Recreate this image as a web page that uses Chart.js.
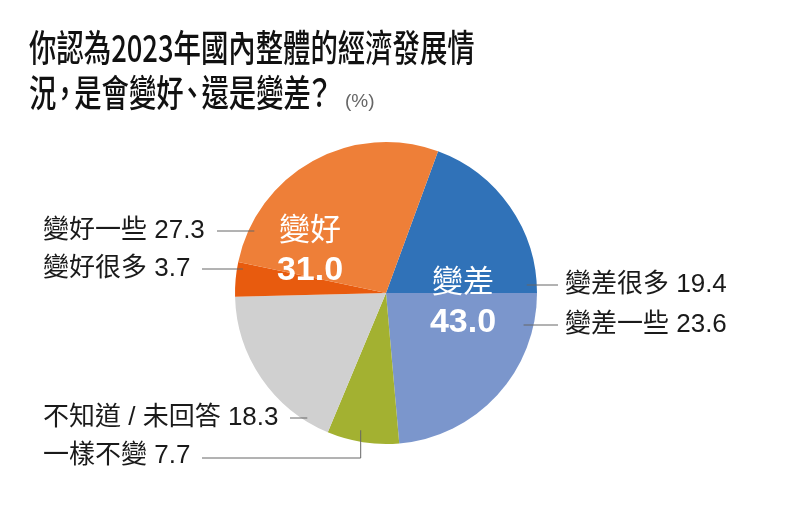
<!DOCTYPE html>
<html>
<head>
<meta charset="utf-8">
<script src="https://cdn.jsdelivr.net/npm/chart.js@4.4.0/dist/chart.umd.min.js"></script>
<style>
  html, body { margin: 0; padding: 0; background: #fff; }
  #wrap { position: relative; width: 800px; height: 525px; }
  #title {
    position: absolute; left: 29px; top: 24px;
    font: 500 37px "Noto Sans CJK TC", sans-serif; line-height: 45px; color: #111;
    transform: scaleX(0.74); transform-origin: 0 0; white-space: nowrap;
  }
  #title .p { margin-left: -7px; letter-spacing: -6px; }
  #unit {
    position: absolute; left: 345px; top: 90px;
    font: 19px "Liberation Sans", sans-serif; color: #666;
  }
  canvas { position: absolute; left: 0; top: 0; }
</style>
</head>
<body>
<div id="wrap">
  <canvas id="pie" width="800" height="525"></canvas>
  <div id="title">你認為2023年國內整體的經濟發展情<br>況<span class="p">，</span>是會變好<span class="p">、</span>還是變差<span class="p">？</span></div>
  <div id="unit">(%)</div>
</div>
<script>
const labels = ["變差很多", "變差一些", "一樣不變", "不知道 / 未回答", "變好很多", "變好一些"];
const values = [19.4, 23.6, 7.7, 18.3, 3.7, 27.3];
const colors = ["#3072b8", "#7b96cc", "#a3b131", "#d0d0d0", "#e85b0e", "#ee7f38"];
const groupNames = ["變差", "變好"];
const groupTotals = [43.0, 31.0];

// outside labels: which slice, where the text sits, where its leader line starts
const outside = [
  { i: 5, x: 43, y: 231, lineX: 217, side: "left" },
  { i: 4, x: 43, y: 269, lineX: 202, side: "left" },
  { i: 0, x: 565, y: 285, lineX: 558, side: "right" },
  { i: 1, x: 565, y: 325, lineX: 558, side: "right" },
  { i: 3, x: 43, y: 418, lineX: 290, side: "left" },
  { i: 2, x: 43, y: 456, lineX: 202, side: "elbow" },
];

const labelFont = '26px "Liberation Sans", "Noto Sans CJK TC", sans-serif';

const labelPlugin = {
  id: "pieLabels",
  afterDraw(chart) {
    const ctx = chart.ctx;
    const arcs = chart.getDatasetMeta(0).data;
    const cx = arcs[0].x, cy = arcs[0].y, r = arcs[0].outerRadius;
    ctx.save();

    // leader lines + outside labels
    ctx.font = labelFont;
    ctx.textBaseline = "middle";
    ctx.textAlign = "left";
    ctx.strokeStyle = "#666";
    ctx.lineWidth = 1;
    outside.forEach(o => {
      ctx.fillStyle = "#1a1a1a";
      ctx.fillText(labels[o.i] + " " + values[o.i].toFixed(1), o.x, o.y);
      ctx.beginPath();
      if (o.side === "elbow") {
        const a = arcs[o.i];
        const mid = (a.startAngle + a.endAngle) / 2;
        const ex = cx + Math.cos(mid) * r * 0.92 - 4;
        const ey = cy + Math.sin(mid) * r * 0.92;
        ctx.moveTo(o.lineX, o.y + 2);
        ctx.lineTo(ex, o.y + 2);
        ctx.lineTo(ex, ey);
      } else {
        const dy = o.y - cy;
        const half = Math.sqrt(r * r - dy * dy);
        const ex = o.side === "left" ? cx - half + 6 : cx + half - 10;
        ctx.moveTo(o.lineX, o.y);
        ctx.lineTo(ex, o.y);
      }
      ctx.stroke();
    });

    // group totals inside the pie
    ctx.textAlign = "center";
    ctx.fillStyle = "#fff";
    const inner = [
      { name: groupNames[1], total: groupTotals[1], dx: -76, dy: -65 },
      { name: groupNames[0], total: groupTotals[0], dx: 77, dy: -13 },
    ];
    inner.forEach(g => {
      ctx.font = '31px "Noto Sans CJK TC", sans-serif';
      ctx.fillText(g.name, cx + g.dx, cy + g.dy);
      ctx.font = 'bold 34px "Liberation Sans", sans-serif';
      ctx.fillText(g.total.toFixed(1), cx + g.dx, cy + g.dy + 43);
    });
    ctx.restore();
  }
};

new Chart(document.getElementById("pie"), {
  type: "pie",
  data: {
    labels: labels,
    datasets: [{ data: values, backgroundColor: colors, borderWidth: 0 }],
  },
  options: {
    responsive: false,
    animation: false,
    rotation: 90 - values[0] * 3.6,
    layout: { padding: { top: 142, bottom: 81, left: 235, right: 263 } },
    plugins: { legend: { display: false }, tooltip: { enabled: false } },
  },
  plugins: [labelPlugin],
});
</script>
</body>
</html>
